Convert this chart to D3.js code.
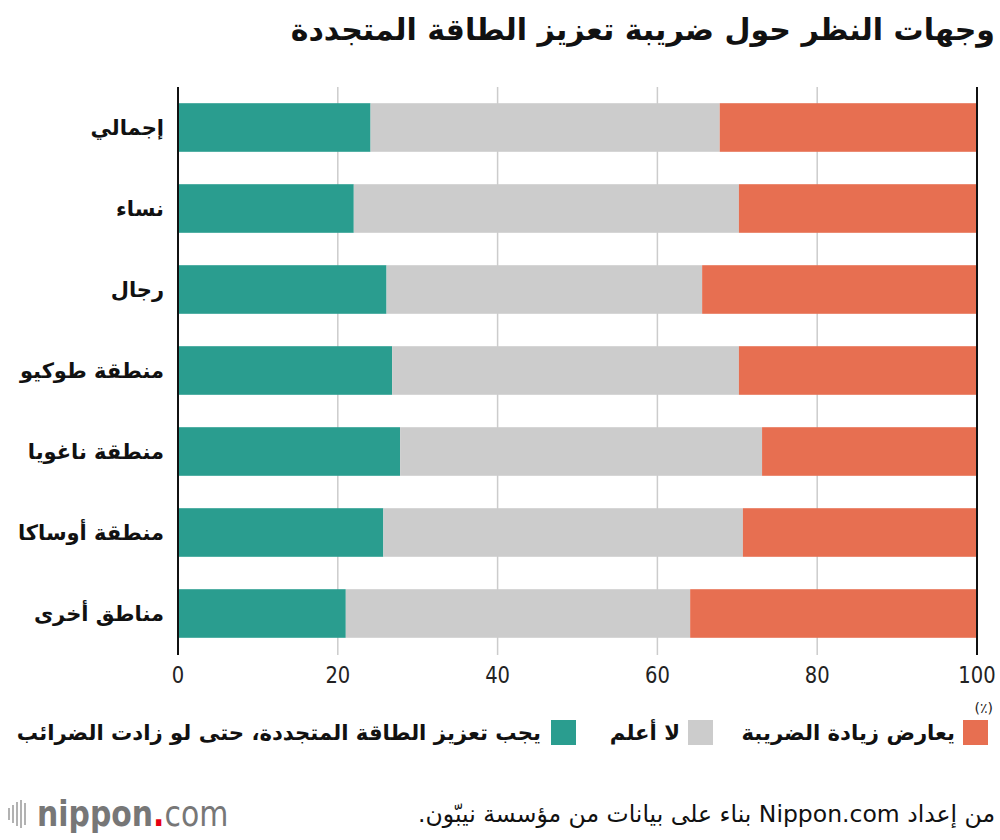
<!DOCTYPE html>
<html><head><meta charset="utf-8">
<script src="https://cdn.jsdelivr.net/npm/d3@7"></script>
<style>
body{margin:0;background:#fff;}
svg{display:block;}
text{font-family:"DejaVu Sans","Noto Sans",sans-serif;}
</style></head>
<body><svg id="chart" width="1000" height="840"></svg>
<script>
const categories = ["إجمالي","نساء","رجال","منطقة طوكيو","منطقة ناغويا","منطقة أوساكا","مناطق أخرى"];
const support = [24.1,22.0,26.1,26.8,27.8,25.7,21.0];
const dontKnow = [43.7,48.2,39.5,43.4,45.3,45.0,43.1];
const oppose = [32.2,29.8,34.4,29.8,26.9,29.3,35.9];
const seriesNames = ["يجب تعزيز الطاقة المتجددة، حتى لو زادت الضرائب","لا أعلم","يعارض زيادة الضريبة"];
const seriesColors = ["#2a9d8f","#cccccc","#e76f51"];
const xTicks = [0,20,40,60,80,100];

const svg = d3.select("#chart");
const x = d3.scaleLinear().domain([0,100]).range([178,977]);
const y = d3.scaleBand().domain(categories).range([87,654]).paddingInner(0.4).paddingOuter(0.2);

// title
svg.append("text").attr("x",995).attr("y",40).attr("direction","rtl").attr("text-anchor","start")
  .attr("font-size",30).attr("font-weight","bold").attr("fill","#111").text("وجهات النظر حول ضريبة تعزيز الطاقة المتجددة");

// gridlines
svg.append("g").selectAll("line").data(xTicks.filter(d=>d>0&&d<100)).join("line")
  .attr("x1",d=>x(d)).attr("x2",d=>x(d)).attr("y1",87).attr("y2",655)
  .attr("stroke","#cccccc").attr("stroke-width",1.5);

// bars
const data = categories.map((c,i)=>({cat:c, v:[support[i],dontKnow[i],oppose[i]]}));
const g = svg.append("g");
data.forEach(d=>{
  let acc=0;
  d.v.forEach((val,k)=>{
    g.append("rect").attr("x",x(acc)).attr("y",y(d.cat)).attr("width",x(acc+val)-x(acc))
      .attr("height",y.bandwidth()).attr("fill",seriesColors[k]);
    acc+=val;
  });
});

// boundary lines at 0 and 100
svg.append("g").selectAll("line").data([0,100]).join("line")
  .attr("x1",d=>x(d)).attr("x2",d=>x(d)).attr("y1",87).attr("y2",655)
  .attr("stroke","#111").attr("stroke-width",2);

// x axis labels (condensed)
svg.append("g").selectAll("text").data(xTicks).join("text")
  .attr("transform",d=>`translate(${x(d)},683) scale(0.85,1)`).attr("text-anchor","middle")
  .attr("font-family","Roboto, sans-serif").attr("font-size",23).attr("fill","#222").text(d=>d);
svg.append("text").attr("x",993).attr("y",713).attr("text-anchor","end")
  .attr("font-size",14).attr("fill","#222").text("(٪)");

// category labels
svg.append("g").selectAll("text").data(categories).join("text")
  .attr("x",164).attr("y",d=>y(d)+y.bandwidth()/2).attr("dy","0.35em")
  .attr("direction","rtl").attr("text-anchor","start")
  .attr("font-size",21).attr("font-weight","bold").attr("fill","#111").text(d=>d);

// legend (right to left)
const legendPos = [{sq:551,tx:541},{sq:688,tx:680},{sq:963,tx:955}];
seriesNames.forEach((n,k)=>{
  svg.append("rect").attr("x",legendPos[k].sq).attr("y",720).attr("width",25).attr("height",25).attr("fill",seriesColors[k]);
  svg.append("text").attr("x",legendPos[k].tx).attr("y",733).attr("dy","0.35em")
    .attr("direction","rtl").attr("text-anchor","start").attr("font-size",21.2).attr("font-weight","bold")
    .attr("fill","#111").text(n);
});

// footer
svg.append("text").attr("x",995).attr("y",822).attr("direction","rtl").attr("text-anchor","start")
  .attr("font-size",23.5).attr("fill","#111").text("من إعداد Nippon.com بناء على بيانات من مؤسسة نيبّون.");

// logo
const logo = svg.append("g");
const bars = [[9,12],[13,18],[17,24],[21,28],[25,22]];
bars.forEach(b=>{
  logo.append("line").attr("x1",b[0]).attr("x2",b[0]).attr("y1",814-b[1]/2).attr("y2",814+b[1]/2)
    .attr("stroke","#999").attr("stroke-width",1.5);
});
const lt = logo.append("text").attr("transform","translate(37,826) scale(0.83,1)")
  .attr("font-family","Roboto, sans-serif").attr("font-size",36).attr("fill","#777");
lt.append("tspan").attr("font-weight","bold").text("nippon");
lt.append("tspan").attr("fill","#e60012").attr("font-weight","bold").text(".");
lt.append("tspan").attr("font-weight","normal").text("com");
</script></body></html>
